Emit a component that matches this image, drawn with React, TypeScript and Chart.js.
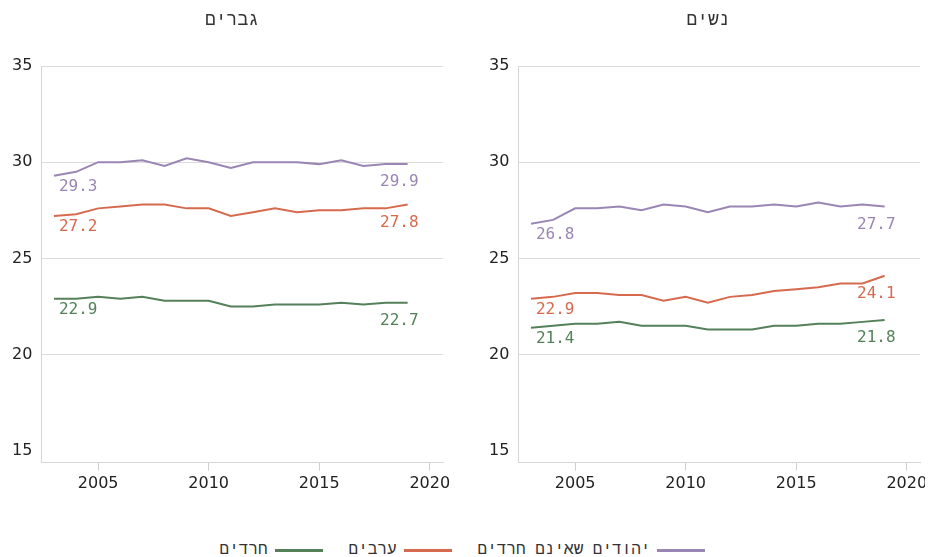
import React, { useEffect, useRef } from "react";
import { Chart, registerables } from "chart.js";

Chart.register(...registerables);

const years = [2003, 2004, 2005, 2006, 2007, 2008, 2009, 2010, 2011, 2012, 2013, 2014, 2015, 2016, 2017, 2018, 2019];

const menHaredi = [22.9, 22.9, 23.0, 22.9, 23.0, 22.8, 22.8, 22.8, 22.5, 22.5, 22.6, 22.6, 22.6, 22.7, 22.6, 22.7, 22.7];
const menArab = [27.2, 27.3, 27.6, 27.7, 27.8, 27.8, 27.6, 27.6, 27.2, 27.4, 27.6, 27.4, 27.5, 27.5, 27.6, 27.6, 27.8];
const menJewish = [29.3, 29.5, 30.0, 30.0, 30.1, 29.8, 30.2, 30.0, 29.7, 30.0, 30.0, 30.0, 29.9, 30.1, 29.8, 29.9, 29.9];

const womenHaredi = [21.4, 21.5, 21.6, 21.6, 21.7, 21.5, 21.5, 21.5, 21.3, 21.3, 21.3, 21.5, 21.5, 21.6, 21.6, 21.7, 21.8];
const womenArab = [22.9, 23.0, 23.2, 23.2, 23.1, 23.1, 22.8, 23.0, 22.7, 23.0, 23.1, 23.3, 23.4, 23.5, 23.7, 23.7, 24.1];
const womenJewish = [26.8, 27.0, 27.6, 27.6, 27.7, 27.5, 27.8, 27.7, 27.4, 27.7, 27.7, 27.8, 27.7, 27.9, 27.7, 27.8, 27.7];

const seriesNames = ["חרדים", "ערבים", "יהודים שאינם חרדים"];
const seriesColors = ["#54805a", "#d66a4f", "#9a86b4"];
const panelTitles = ["גברים", "נשים"];
const yTicks = [15, 20, 25, 30, 35];
const xTicks = [2005, 2010, 2015, 2020];

const hebrewFont = "'Liberation Mono', 'DejaVu Sans'";

const endLabels = {
  id: "endLabels",
  afterDatasetsDraw(chart: any) {
    const ctx = chart.ctx;
    chart.data.datasets.forEach((ds: any, i: number) => {
      const pts = chart.getDatasetMeta(i).data;
      if (!pts.length) return;
      const first = pts[0];
      const last = pts[pts.length - 1];
      ctx.save();
      ctx.font = "16px 'DejaVu Sans Mono'";
      ctx.fillStyle = ds.borderColor;
      ctx.textBaseline = "middle";
      ctx.textAlign = "left";
      ctx.fillText(ds.data[0].y.toFixed(1), first.x + 5, first.y + 11);
      ctx.textAlign = "right";
      ctx.fillText(ds.data[ds.data.length - 1].y.toFixed(1), last.x + 11, last.y + 18);
      ctx.restore();
    });
  },
};

function Panel({ series, left }: { series: number[][]; left: number }) {
  const ref = useRef<HTMLCanvasElement | null>(null);
  useEffect(() => {
    if (!ref.current) return;
    const chart = new Chart(ref.current, {
      type: "line",
      data: {
        datasets: series.map((vals, i) => ({
          label: seriesNames[i],
          data: vals.map((v, j) => ({ x: years[j], y: v })),
          borderColor: seriesColors[i],
          backgroundColor: seriesColors[i],
          borderWidth: 2,
          pointRadius: 0,
          tension: 0,
          fill: false,
        })),
      },
      options: {
        animation: false,
        responsive: true,
        maintainAspectRatio: false,
        layout: { padding: { top: 58, left: 0, right: 29, bottom: 12 } },
        plugins: { legend: { display: false }, tooltip: { enabled: false }, title: { display: false } },
        scales: {
          x: {
            type: "linear",
            min: 2002.43,
            max: 2020.6,
            afterBuildTicks: (scale: any) => {
              scale.ticks = xTicks.map((v) => ({ value: v }));
            },
            ticks: {
              callback: (v: any) => String(v),
              color: "#222",
              font: { family: "'DejaVu Sans'", size: 16 },
              padding: 3,
              maxRotation: 0,
            },
            grid: { drawOnChartArea: false, drawTicks: true, tickLength: 8, color: "#cfcfcf" },
            border: { display: true, color: "#d6d6d6" },
          },
          y: {
            type: "linear",
            min: 14.375,
            max: 35,
            afterBuildTicks: (scale: any) => {
              scale.ticks = yTicks.map((v) => ({ value: v }));
            },
            ticks: {
              callback: (v: any) => String(v),
              color: "#222",
              font: { family: "'DejaVu Sans'", size: 16 },
              padding: 9,
            },
            grid: {
              drawTicks: false,
              color: (c: any) => (c.tick && c.tick.value === 15 ? "rgba(0,0,0,0)" : "#dcdcdc"),
            },
            border: { display: true, color: "#d6d6d6" },
          },
        },
      },
      plugins: [endLabels],
    });
    return () => chart.destroy();
  }, []);
  return (
    <div style={{ position: "absolute", left, top: 0, width: 469, height: 500 }}>
      <canvas ref={ref} />
    </div>
  );
}

export default function App() {
  const legendOrder = [2, 1, 0];
  return (
    <div style={{ position: "relative", width: 917, height: 560, fontFamily: hebrewFont }}>
      <Panel series={[menHaredi, menArab, menJewish]} left={-5} />
      <Panel series={[womenHaredi, womenArab, womenJewish]} left={472} />
      <div style={{ position: "absolute", left: 124, width: 200, top: 2, textAlign: "center", fontSize: 18, color: "#333", direction: "rtl" }}>
        {panelTitles[0]}
      </div>
      <div style={{ position: "absolute", left: 600, width: 200, top: 2, textAlign: "center", fontSize: 18, color: "#333", direction: "rtl" }}>
        {panelTitles[1]}
      </div>
      <div
        style={{
          position: "absolute",
          left: 0,
          width: 909,
          top: 533,
          display: "flex",
          justifyContent: "center",
          direction: "rtl",
          fontSize: 16,
          lineHeight: "19px",
          color: "#333",
          gap: 26,
        }}
      >
        {legendOrder.map((i) => (
          <div key={i} style={{ display: "flex", alignItems: "center", gap: 7 }}>
            <span style={{ display: "inline-block", width: 48, height: 3, background: seriesColors[i] }} />
            <span>{seriesNames[i]}</span>
          </div>
        ))}
      </div>
    </div>
  );
}
